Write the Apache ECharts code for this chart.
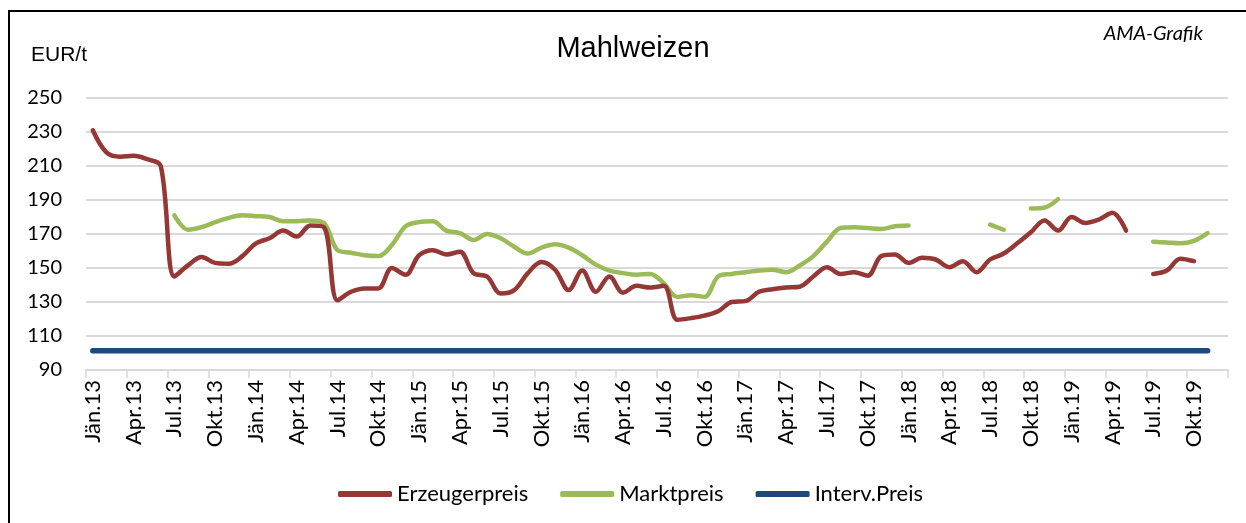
<!DOCTYPE html>
<html>
<head>
<meta charset="utf-8">
<script src="https://cdn.jsdelivr.net/npm/echarts@6/dist/echarts.min.js"></script>
<style>
html,body{margin:0;padding:0;background:#fff;}
#chart{width:1246px;height:523px;}
</style>
</head>
<body>
<div id="chart"></div>
<script>
const monthNames = ['Jän','Feb','Mär','Apr','Mai','Jun','Jul','Aug','Sep','Okt','Nov','Dez'];
const years = ['13','14','15','16','17','18','19'];
const categories = [];
years.forEach(y => monthNames.forEach(m => categories.push(m + '.' + y)));

const erzeugerpreis = [
  231, 218, 215.5, 216, 214, 210, 145, 151.5, 156.5, 153, 152.5, 157,
  164.5, 167.5, 172, 168.5, 175, 174, 131, 136, 138, 138, 150, 146,
  157.5, 160.5, 158, 159.5, 147, 145, 135, 137, 147, 153.5, 149, 137,
  148.5, 136, 145, 135.5, 139.5, 138.5, 139.5, 119.5, 120.5, 122, 124.5, 130,
  130.5, 136, 137.5, 138.5, 139, 145, 150.5, 146.5, 147.5, 145.5, 157, 158,
  153, 156, 155, 150.5, 154, 147.5, 155, 158.5, 164.5, 171, 178, 172,
  180, 176.5, 178.5, 182.5, 172, null, 146.5, 148.5, 155.5, 154, null, null
];
const marktpreis = [
  null, null, null, null, null, null, 181, 172.5, 174, 177, 179.5, 181,
  180.5, 180, 177.5, 177.5, 178, 176.5, 160.5, 159, 157.5, 157, 163.5, 174.5,
  177, 177.5, 172, 170.5, 166.5, 170, 167.5, 162.5, 158.5, 162, 164, 162,
  157.5, 152, 148.5, 147, 146, 146.5, 141, 133, 134, 133, 145, 146.5,
  147.5, 148.5, 149, 147.5, 151.5, 157, 165.5, 173.5, 174, 173.5, 173, 174.5,
  175, null, null, null, null, null, 175.5, 172.5, null, 185, 185.5, 190.5,
  null, null, null, null, null, null, 165.5, 165, 164.5, 166, 170.5, null
];
const intervPreis = [
  101.31, 101.31, 101.31, 101.31, 101.31, 101.31, 101.31, 101.31, 101.31, 101.31, 101.31, 101.31,
  101.31, 101.31, 101.31, 101.31, 101.31, 101.31, 101.31, 101.31, 101.31, 101.31, 101.31, 101.31,
  101.31, 101.31, 101.31, 101.31, 101.31, 101.31, 101.31, 101.31, 101.31, 101.31, 101.31, 101.31,
  101.31, 101.31, 101.31, 101.31, 101.31, 101.31, 101.31, 101.31, 101.31, 101.31, 101.31, 101.31,
  101.31, 101.31, 101.31, 101.31, 101.31, 101.31, 101.31, 101.31, 101.31, 101.31, 101.31, 101.31,
  101.31, 101.31, 101.31, 101.31, 101.31, 101.31, 101.31, 101.31, 101.31, 101.31, 101.31, 101.31,
  101.31, 101.31, 101.31, 101.31, 101.31, 101.31, 101.31, 101.31, 101.31, 101.31, 101.31, null
];
const yTicks = {min: 90, max: 250, interval: 20};

const chart = echarts.init(document.getElementById('chart'), null, {renderer: 'canvas'});
const labelFont = 'Lato, "Open Sans", sans-serif';
chart.setOption({
  animation: false,
  backgroundColor: '#fff',
  grid: {left: 86, right: 18, top: 98, bottom: 153, containLabel: false},
  graphic: [
    {type: 'polyline', shape: {points: [[9, 523], [9, 11], [1246, 11]]}, style: {stroke: '#000', lineWidth: 2, fill: null}, z: 100},
    {type: 'text', x: 633, y: 49, style: {text: 'Mahlweizen', font: '29px "Liberation Sans", Arial, sans-serif', fill: '#000', textAlign: 'center', textVerticalAlign: 'middle'}},
    {type: 'text', x: 31, y: 55, style: {text: 'EUR/t', font: '21px "Liberation Sans", Arial, sans-serif', fill: '#000', textAlign: 'left', textVerticalAlign: 'middle'}},
    {type: 'text', x: 1203, y: 34, style: {text: 'AMA-Grafik', font: 'italic 20px Lato, sans-serif', fill: '#000', textAlign: 'right', textVerticalAlign: 'middle'}}
  ],
  legend: {
    left: 333, top: 478,
    icon: 'roundRect', itemWidth: 54, itemHeight: 6, itemGap: 32,
    textStyle: {fontFamily: labelFont, fontSize: 22, color: '#000'},
    data: ['Erzeugerpreis', 'Marktpreis', 'Interv.Preis']
  },
  xAxis: {
    type: 'category', data: categories, boundaryGap: true,
    axisLine: {show: true, lineStyle: {color: '#d9d9d9', width: 2}},
    axisTick: {show: true, interval: 2, length: 8, lineStyle: {color: '#d9d9d9', width: 1.5}},
    axisLabel: {interval: 2, rotate: 90, fontFamily: labelFont, fontSize: 22, color: '#000', margin: 10},
    splitLine: {show: false}
  },
  yAxis: {
    type: 'value', min: yTicks.min, max: yTicks.max, interval: yTicks.interval,
    axisLine: {show: false}, axisTick: {show: false},
    axisLabel: {fontFamily: labelFont, fontSize: 20, color: '#000', margin: 24},
    splitLine: {lineStyle: {color: '#d9d9d9', width: 2}}
  },
  series: [
    {name: 'Erzeugerpreis', type: 'line', data: erzeugerpreis, smooth: 0.35, showSymbol: false, symbol: 'none', connectNulls: false,
      lineStyle: {color: '#953735', width: 4.5, cap: 'round', join: 'round'}, itemStyle: {color: '#953735'}, z: 3},
    {name: 'Marktpreis', type: 'line', data: marktpreis, smooth: 0.35, showSymbol: false, symbol: 'none', connectNulls: false,
      lineStyle: {color: '#9BBB59', width: 4.5, cap: 'round', join: 'round'}, itemStyle: {color: '#9BBB59'}, z: 2},
    {name: 'Interv.Preis', type: 'line', data: intervPreis, showSymbol: false, symbol: 'none',
      lineStyle: {color: '#1F497D', width: 5.5, cap: 'round'}, itemStyle: {color: '#1F497D'}, z: 1}
  ]
});
</script>
</body>
</html>
